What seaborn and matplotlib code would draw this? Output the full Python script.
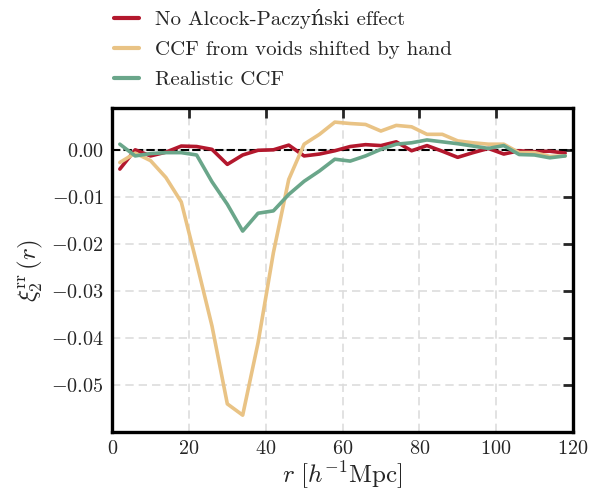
import numpy as np
import pandas as pd
import matplotlib
matplotlib.use("Agg")
import matplotlib.pyplot as plt
import seaborn as sns

r = [2, 6, 10, 14, 18, 22, 26, 30, 34, 38, 42, 46, 50, 54, 58,
     62, 66, 70, 74, 78, 82, 86, 90, 94, 98, 102, 106, 110, 114, 118]
no_ap = [-0.0040, 0.0001, -0.0012, -0.0004, 0.0009, 0.0008, 0.0002, -0.0030, -0.0010, 0.0000,
         0.0001, 0.0011, -0.0012, -0.0008, -0.0001, 0.0008, 0.0012, 0.0010, 0.0018, -0.0001,
         0.0010, -0.0002, -0.0015, -0.0005, 0.0004, -0.0008, -0.0001, -0.0003, -0.0002, -0.0006]
shifted = [-0.0026, -0.0006, -0.0022, -0.0058, -0.0110, -0.0240, -0.0374, -0.0540, -0.0564, -0.0410,
           -0.0218, -0.0062, 0.0013, 0.0034, 0.0060, 0.0057, 0.0055, 0.0041, 0.0053, 0.0050,
           0.0034, 0.0034, 0.0020, 0.0016, 0.0013, 0.0013, -0.0005, -0.0005, -0.0013, -0.0012]
realistic = [0.0013, -0.0012, -0.0007, -0.0005, -0.0005, -0.0010, -0.0067, -0.0115, -0.0172, -0.0134,
             -0.0129, -0.0094, -0.0066, -0.0044, -0.0019, -0.0023, -0.0012, 0.0002, 0.0013, 0.0016,
             0.0022, 0.0018, 0.0014, 0.0009, 0.0004, 0.0010, -0.0009, -0.0010, -0.0016, -0.0012]
labels = ["No Alcock-Paczyński effect", "CCF from voids shifted by hand", "Realistic CCF"]
colors = ["#b3182d", "#e9c385", "#6aa68a"]
xticks = [0, 20, 40, 60, 80, 100, 120]
yticks = [0.0, -0.01, -0.02, -0.03, -0.04, -0.05]

df = pd.concat([
    pd.DataFrame({"r": r, "xi": v, "series": lab})
    for v, lab in zip([no_ap, shifted, realistic], labels)
])

sns.set_theme(style="white")
plt.rcParams["font.family"] = ["cmr10", "DejaVu Serif"]
plt.rcParams["mathtext.fontset"] = "cm"
plt.rcParams["axes.formatter.use_mathtext"] = True
plt.rcParams["axes.unicode_minus"] = True

fig = plt.figure(figsize=(6.03, 4.91), dpi=100)
ax = fig.add_axes([0.186, 0.120, 0.764, 0.660])

ax.axhline(0, color="black", lw=1.5, ls=(0, (4, 1.5)), zorder=1)
sns.lineplot(data=df, x="r", y="xi", hue="series", hue_order=labels,
             palette=colors, lw=2.6, ax=ax, legend=False, zorder=3)

ax.set_xlim(0, 120)
ax.set_ylim(-0.06, 0.009)
ax.set_xticks(xticks)
ax.set_yticks(yticks)
ax.set_yticklabels([r"$%.2f$" % v if v != 0 else r"$0.00$" for v in yticks])
ax.set_xticklabels([r"$%d$" % v for v in xticks])
ax.grid(True, ls=(0, (5, 3)), color="#dddddd", lw=1.2, zorder=0)
ax.tick_params(direction="in", length=7, width=2, top=True, right=True,
               labelsize=14.5, pad=6)
for s in ax.spines.values():
    s.set_linewidth(2.4)
    s.set_color("black")
ax.set_xlabel(r"$r\ [h^{-1}\mathrm{Mpc}]$", fontsize=18, labelpad=1)
ax.set_ylabel(r"$\xi_2^{\mathrm{rr}}\,(r)$", fontsize=18, labelpad=4)

from matplotlib.lines import Line2D
handles = [Line2D([0], [0], color=c, lw=3) for c in colors]
fig.legend(handles, labels, loc="upper left", bbox_to_anchor=(0.158, 1.02),
           frameon=False, fontsize=15, handlelength=1.2, labelspacing=0.56,
           handletextpad=0.75)

fig.savefig("out.png", dpi=100)
